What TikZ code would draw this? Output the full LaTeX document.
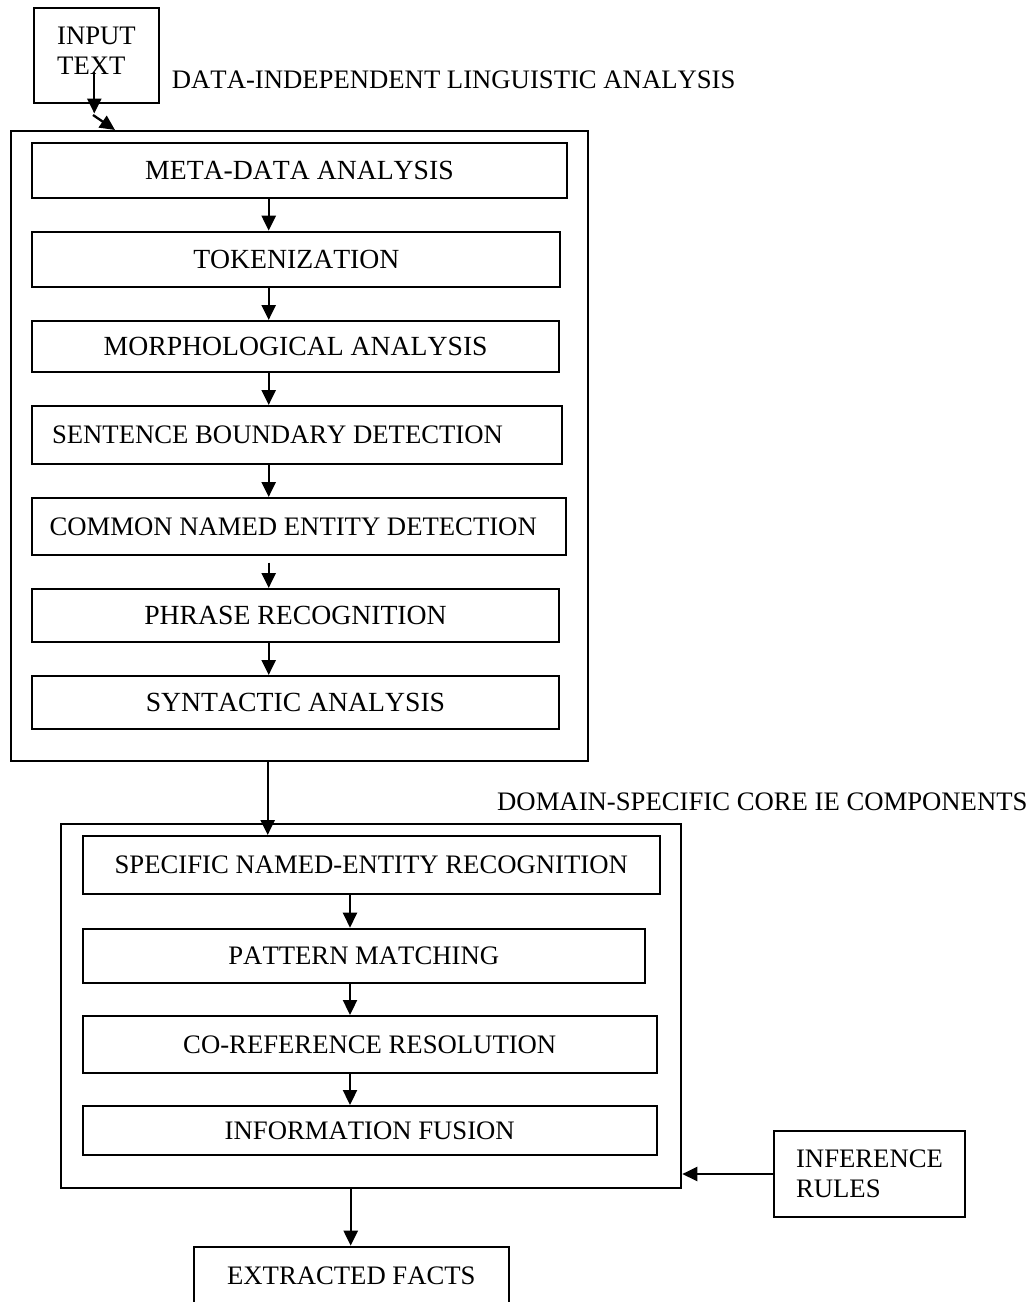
\documentclass[tikz,border=0pt]{standalone}
\usepackage{fontspec}
\setmainfont[Kerning=Off]{Liberation Serif}
\usepackage{tikz}
\usetikzlibrary{arrows.meta}

\tikzset{
  stagebox/.style={draw, line width=2pt, inner sep=0pt, anchor=north west},
  widetext/.style={font=\fontsize{27.7pt}{30pt}\selectfont},
  groupbox/.style={draw, line width=2.3pt, inner sep=0pt, anchor=north west},
  sidebox/.style={draw, line width=2pt, inner sep=0pt, align=left, anchor=north west},
  grouplabel/.style={inner sep=0pt, anchor=base west},
  flow/.style={-{Triangle[length=15pt,width=14pt]}, line width=2.3pt},
}

\begin{document}
\begin{tikzpicture}[x=1pt, y=-1pt, font=\fontsize{26.7pt}{30pt}\selectfont]
        \useasboundingbox (0,0) rectangle (1032,1302);

        % Input
        \node[sidebox, minimum width=125pt, minimum height=94.7pt] (input) at (33,7) {};
        \node[align=left, inner sep=0pt] (inputtext) at ([yshift=4.5pt]input.center) {INPUT\\TEXT};
        \node[grouplabel] (dillabel) at (171.7,88.3) {DATA-INDEPENDENT LINGUISTIC ANALYSIS};

        % Data-independent linguistic analysis
        \node[groupbox, minimum width=577pt, minimum height=630pt] (dil) at (9.6,130) {};
        \node[stagebox, widetext, minimum width=534.2pt, minimum height=55pt] (meta) at (31.4,141.7) {META-DATA ANALYSIS};
        \node[stagebox, widetext, minimum width=528pt, minimum height=55.3pt] (token) at (31.4,230.7) {TOKENIZATION};
        \node[stagebox, widetext, minimum width=526.6pt, minimum height=51pt] (morph) at (31.4,320) {MORPHOLOGICAL ANALYSIS};
        \node[stagebox, minimum width=529.2pt, minimum height=57.7pt] (sent) at (31.4,405) {SENTENCE BOUNDARY DETECTION\hspace*{39pt}};
        \node[stagebox, minimum width=533.6pt, minimum height=56.7pt] (cne) at (31.4,497) {COMMON NAMED ENTITY DETECTION\hspace*{12pt}};
        \node[stagebox, widetext, minimum width=526.2pt, minimum height=53pt] (phrase) at (31.4,588) {PHRASE RECOGNITION};
        \node[stagebox, widetext, minimum width=526.2pt, minimum height=53pt] (synt) at (31.4,675) {SYNTACTIC ANALYSIS};

        % Domain-specific core IE components
        \node[grouplabel] (cielabel) at (497,810) {DOMAIN-SPECIFIC CORE IE COMPONENTS};
        \node[groupbox, minimum width=620pt, minimum height=364pt] (cie) at (60,822.7) {};
        \node[stagebox, minimum width=577.5pt, minimum height=58pt] (sner) at (81.5,835) {SPECIFIC NAMED-ENTITY RECOGNITION};
        \node[stagebox, minimum width=562.5pt, minimum height=54pt] (pattern) at (81.5,927.7) {PATTERN MATCHING};
        \node[stagebox, minimum width=574.5pt, minimum height=56.7pt] (coref) at (81.5,1015) {CO-REFERENCE RESOLUTION};
        \node[stagebox, minimum width=574.5pt, minimum height=49pt] (fusion) at (81.5,1105) {INFORMATION FUSION};

        % Output and rules
        \node[stagebox, minimum width=315.3pt, minimum height=58pt] (facts) at (192.7,1245.7) {EXTRACTED FACTS};
        \node[sidebox, minimum width=191pt, minimum height=86pt] (rules) at (773,1130) {INFERENCE\\RULES};

        % Connectors
        \coordinate (colA) at (268.7,0);
        \coordinate (colB) at (350,0);
        \coordinate (inTop) at (94.3,72);
        \coordinate (inBend) at (94.3,113.5);
        \coordinate (inStart) at (93,115);
        \coordinate (inEnd) at (115,130);

        \draw[flow] (inTop) -- (inBend);
        \draw[flow] (inStart) -- (inEnd);
        \draw[flow] (meta.south -| colA) -- (token.north -| colA);
        \draw[flow] (token.south -| colA) -- (morph.north -| colA);
        \draw[flow] (morph.south -| colA) -- (sent.north -| colA);
        \draw[flow] (sent.south -| colA) -- (cne.north -| colA);
        \draw[flow] (cne.south -| colA) ++(0,7) -- (phrase.north -| colA);
        \draw[flow] (phrase.south -| colA) -- (synt.north -| colA);
        \draw[flow] (dil.south -| colA) ++(-1,0) -- ([xshift=-1pt]sner.north -| colA);
        \draw[flow] (sner.south -| colB) -- (pattern.north -| colB);
        \draw[flow] (pattern.south -| colB) -- (coref.north -| colB);
        \draw[flow] (coref.south -| colB) -- (fusion.north -| colB);
        \draw[flow] ([xshift=0.7pt]cie.south -| colB) -- ([xshift=0.7pt]facts.north -| colB);
        \draw[flow] (rules.west) -- (rules.west -| cie.east);
    \end{tikzpicture}
\end{document}
